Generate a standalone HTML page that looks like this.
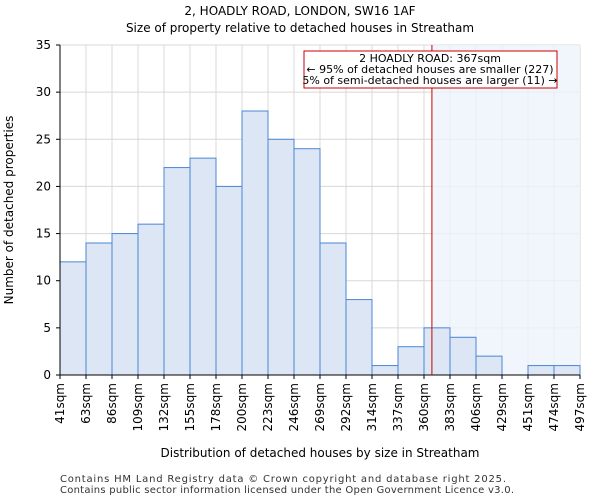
<!DOCTYPE html>
<html><head><meta charset="utf-8"><style>
body{margin:0;background:#fff;font-family:"DejaVu Sans","Liberation Sans",sans-serif;}
svg text{font-family:"DejaVu Sans","Liberation Sans",sans-serif;}
</style></head><body>
<svg id="chart" width="600" height="500" xmlns="http://www.w3.org/2000/svg">
<text x="300" y="15" text-anchor="middle" font-size="12">2, HOADLY ROAD, LONDON, SW16 1AF</text>
<text x="300" y="32" text-anchor="middle" font-size="12">Size of property relative to detached houses in Streatham</text>
<g id="grid"></g>
<rect id="hl" y="45" height="330" fill="#eef2fb" opacity="0.8"/>
<g id="bars"></g>
<g id="axes"></g>
<text transform="translate(13,210) rotate(-90)" text-anchor="middle" font-size="12">Number of detached properties</text>
<text x="320" y="457" text-anchor="middle" font-size="12">Distribution of detached houses by size in Streatham</text>
<text x="60" y="482" font-size="10" fill="#333" textLength="446">Contains HM Land Registry data © Crown copyright and database right 2025.</text>
<text x="60" y="493" font-size="10" fill="#333" textLength="454">Contains public sector information licensed under the Open Government Licence v3.0.</text>
</svg>
<script>
const binLabels=["41sqm","63sqm","86sqm","109sqm","132sqm","155sqm","178sqm","200sqm","223sqm","246sqm","269sqm","292sqm","314sqm","337sqm","360sqm","383sqm","406sqm","429sqm","451sqm","474sqm","497sqm"];
const binEdges=[41,63,86,109,132,155,178,200,223,246,269,292,314,337,360,383,406,429,451,474,497];
const counts=[12,14,15,16,22,23,20,28,25,24,14,8,1,3,5,4,2,0,1,1];
const yTicks=[0,5,10,15,20,25,30,35];
const propertySize=367;
const NS="http://www.w3.org/2000/svg";
const L=60,R=580,T=45,B=375,yMax=35;
const n=counts.length,bw=(R-L)/n;
const xi=i=>L+i*bw;
const y=v=>B-v/yMax*(B-T);
function xv(v){for(let i=0;i<binEdges.length-1;i++){if(v>=binEdges[i]&&v<=binEdges[i+1])return xi(i)+(v-binEdges[i])/(binEdges[i+1]-binEdges[i])*bw;}return R;}
function mk(tag,attrs,parent){const e=document.createElementNS(NS,tag);for(const k in attrs)e.setAttribute(k,attrs[k]);parent.appendChild(e);return e;}
const grid=document.getElementById('grid'),bars=document.getElementById('bars'),axes=document.getElementById('axes'),svg=document.getElementById('chart');
for(let i=0;i<=n;i++){const l=mk('line',{x1:xi(i),x2:xi(i),y1:T,y2:B,stroke:'#d8d8d8'},grid);

}
yTicks.forEach(t=>{const l=mk('line',{x1:L,x2:R,y1:y(t),y2:y(t),stroke:'#d8d8d8'},grid);


const tk=mk('line',{x1:L-4,x2:L,y1:y(t),y2:y(t),stroke:'#000'},axes);


const tx=mk('text',{x:L-9,y:y(t)+4,'text-anchor':'end','font-size':12},axes);tx.textContent=t;

});
const px=xv(propertySize);
const hl=document.getElementById('hl');hl.setAttribute('x',px);hl.setAttribute('width',R-px);
counts.forEach((c,i)=>{if(c<=0)return;const r=mk('rect',{x:xi(i),y:y(c),width:bw,height:B-y(c),fill:'#dce6f5',stroke:'#4a86d4','stroke-width':1},bars);

});
binLabels.forEach((lb,i)=>{const tk=mk('line',{x1:xi(i),x2:xi(i),y1:B,y2:B+4,stroke:'#000'},axes);


const tx=mk('text',{transform:`translate(${xi(i)+4},${B+8}) rotate(-90)`,'text-anchor':'end','font-size':12},axes);tx.textContent=lb;

});
const ax=mk('path',{d:`M${L},${T}V${B}H${R}`,fill:'none',stroke:'#000'},axes);


const pl=mk('line',{x1:px,x2:px,y1:T,y2:B,stroke:'#cc0000','stroke-width':1},svg);


const g=mk('g',{},svg);


mk('rect',{x:304,y:51,width:253,height:37,fill:'#fff',stroke:'#cc0000'},g);
[["2 HOADLY ROAD: 367sqm",62],["← 95% of detached houses are smaller (227)",73],["5% of semi-detached houses are larger (11) →",84]].forEach(([t,yy])=>{const tx=mk('text',{x:430,y:yy,'text-anchor':'middle','font-size':11},g);tx.textContent=t;

});
</script>
</body></html>
